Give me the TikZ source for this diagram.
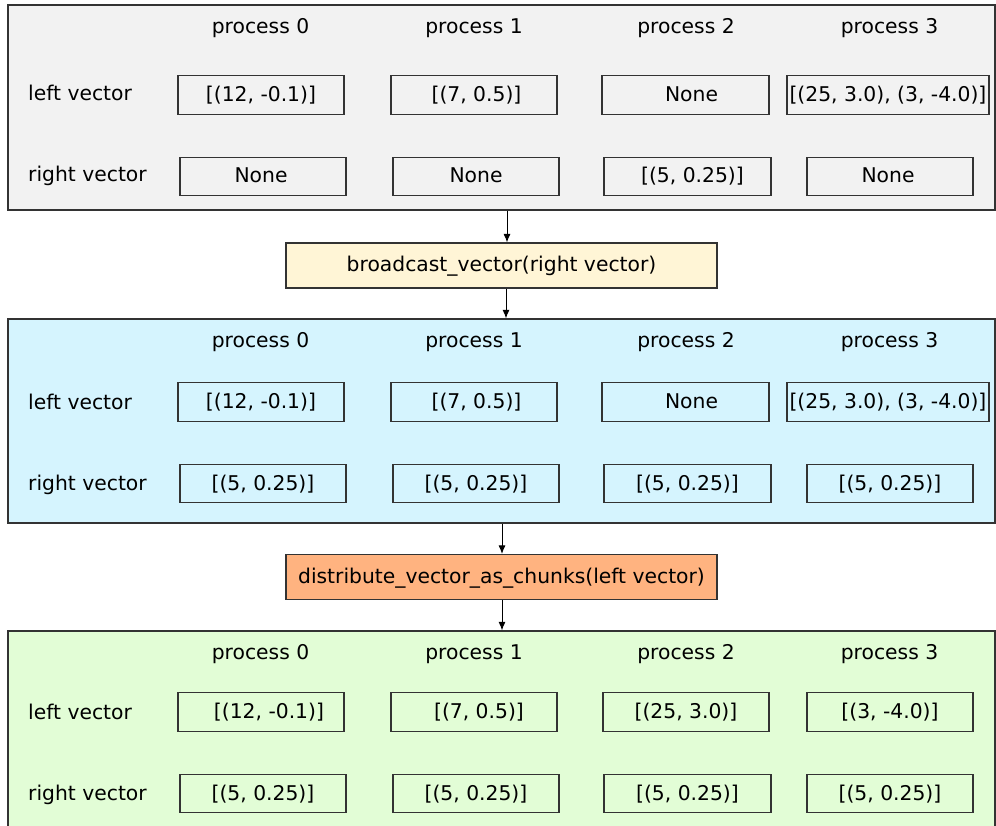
\documentclass[tikz,border=0pt]{standalone}
\usepackage{fontspec}
\setmainfont{DejaVu Sans}
\usetikzlibrary{arrows.meta}

\definecolor{edgegray}{HTML}{333333}
\definecolor{panelgray}{HTML}{F2F2F2}
\definecolor{panelblue}{HTML}{D5F4FE}
\definecolor{panelgreen}{HTML}{E2FDD6}
\definecolor{opcream}{HTML}{FFF5D6}
\definecolor{oporange}{HTML}{FFB380}

\tikzset{
  panel/.style={draw=edgegray, line width=1.2pt, rectangle, inner sep=0pt},
  cellbox/.style={draw=edgegray, line width=1.1pt, rectangle, inner sep=0pt,
    minimum height=38.5pt},
  opbox/.style={draw=edgegray, line width=1.1pt, rectangle, inner sep=0pt,
    minimum width=431pt, minimum height=45pt},
  txt/.style={inner sep=0pt, anchor=base, font=\fontsize{20.3}{24}\selectfont},
  rowtxt/.style={inner sep=0pt, anchor=base west, font=\fontsize{20.3}{24}\selectfont},
  flow/.style={draw=black, line width=1pt, -{Latex[length=8.5pt,width=7pt]}}
}

% \vcell{name}{x left}{x right}{y centre}{text shift}{text}
\newcommand\vcell[6]{%
  \pgfmathsetmacro\cellw{#3-#2}%
  \pgfmathsetmacro\cellx{(#2+#3)/2}%
  \node[cellbox, minimum width=\cellw pt] (#1) at (\cellx,#4) {};
  \node[txt] (#1-t) at ([xshift=#5pt, yshift=-6.5pt]#1.center) {#6};
}

% \procrow{prefix}{baseline}
\newcommand\procrow[2]{%
  \node[txt] (#1h0) at (260.5,#2) {process 0};
  \node[txt] (#1h1) at (474,#2) {process 1};
  \node[txt] (#1h2) at (686,#2) {process 2};
  \node[txt] (#1h3) at (889.5,#2) {process 3};
}

\begin{document}
\begin{tikzpicture}[x=1pt, y=-1pt]
\useasboundingbox (0,0) rectangle (996,826);
\clip (0,0) rectangle (996,826);

% ---- state before the broadcast ----
\node[panel, fill=panelgray, minimum width=987pt, minimum height=205pt] (p1) at (501.5,107.5) {};
\procrow{a}{34}
\node[rowtxt] (aL) at (28,101) {left vector};
\node[rowtxt] (aR) at (28,182) {right vector};
\vcell{aL0}{178}{344}{95}{0}{[(12, -0.1)]}
\vcell{aL1}{391}{557}{95}{2.5}{[(7, 0.5)]}
\vcell{aL2}{602}{769}{95}{6}{None}
\vcell{aL3}{787}{989}{95}{0}{[(25, 3.0), (3, -4.0)]}
\vcell{aR0}{180}{346}{176.5}{-2}{None}
\vcell{aR1}{393}{559}{176.5}{0}{None}
\vcell{aR2}{604}{771}{176.5}{5}{[(5, 0.25)]}
\vcell{aR3}{807}{973}{176.5}{-2}{None}

% ---- broadcast step ----
\node[opbox, fill=opcream] (bc) at (501.5,265.5) {};
\node[txt] (bc-t) at ([yshift=-6.5pt]bc.center) {broadcast\_vector(right vector)};

% ---- state after the broadcast ----
\node[panel, fill=panelblue, minimum width=987pt, minimum height=204pt] (p2) at (501.5,421) {};
\procrow{b}{348}
\node[rowtxt] (bL) at (28,409) {left vector};
\node[rowtxt] (bR) at (28,490) {right vector};
\vcell{bL0}{178}{344}{402}{0}{[(12, -0.1)]}
\vcell{bL1}{391}{557}{402}{2.5}{[(7, 0.5)]}
\vcell{bL2}{602}{769}{402}{6}{None}
\vcell{bL3}{787}{989}{402}{0}{[(25, 3.0), (3, -4.0)]}
\vcell{bR0}{180}{346}{483.5}{0}{[(5, 0.25)]}
\vcell{bR1}{393}{559}{483.5}{0}{[(5, 0.25)]}
\vcell{bR2}{604}{771}{483.5}{0}{[(5, 0.25)]}
\vcell{bR3}{807}{973}{483.5}{0}{[(5, 0.25)]}

% ---- distribution step ----
\node[opbox, fill=oporange] (dc) at (501.5,577) {};
\node[txt] (dc-t) at ([yshift=-6pt]dc.center) {distribute\_vector\_as\_chunks(left vector)};

% ---- state after the distribution ----
\node[panel, fill=panelgreen, minimum width=987pt, minimum height=230pt] (p3) at (501.5,746) {};
\procrow{c}{659}
\node[rowtxt] (cL) at (28,719) {left vector};
\node[rowtxt] (cR) at (28,800) {right vector};
\vcell{cL0}{178}{344}{712}{8}{[(12, -0.1)]}
\vcell{cL1}{391}{557}{712}{5}{[(7, 0.5)]}
\vcell{cL2}{603}{769}{712}{0}{[(25, 3.0)]}
\vcell{cL3}{807}{973}{712}{0}{[(3, -4.0)]}
\vcell{cR0}{180}{346}{793.5}{0}{[(5, 0.25)]}
\vcell{cR1}{393}{559}{793.5}{0}{[(5, 0.25)]}
\vcell{cR2}{604}{771}{793.5}{0}{[(5, 0.25)]}
\vcell{cR3}{807}{973}{793.5}{0}{[(5, 0.25)]}

% ---- flow arrows ----
\draw[flow] ([xshift=5.5pt]p1.south) -- ([xshift=5.5pt]bc.north);
\draw[flow] ([xshift=4.5pt]bc.south) -- ([xshift=4.5pt]p2.north);
\draw[flow] ([xshift=0.5pt]p2.south) -- ([xshift=0.5pt]dc.north);
\draw[flow] ([xshift=0.5pt]dc.south) -- ([xshift=0.5pt]p3.north);
\end{tikzpicture}
\end{document}
